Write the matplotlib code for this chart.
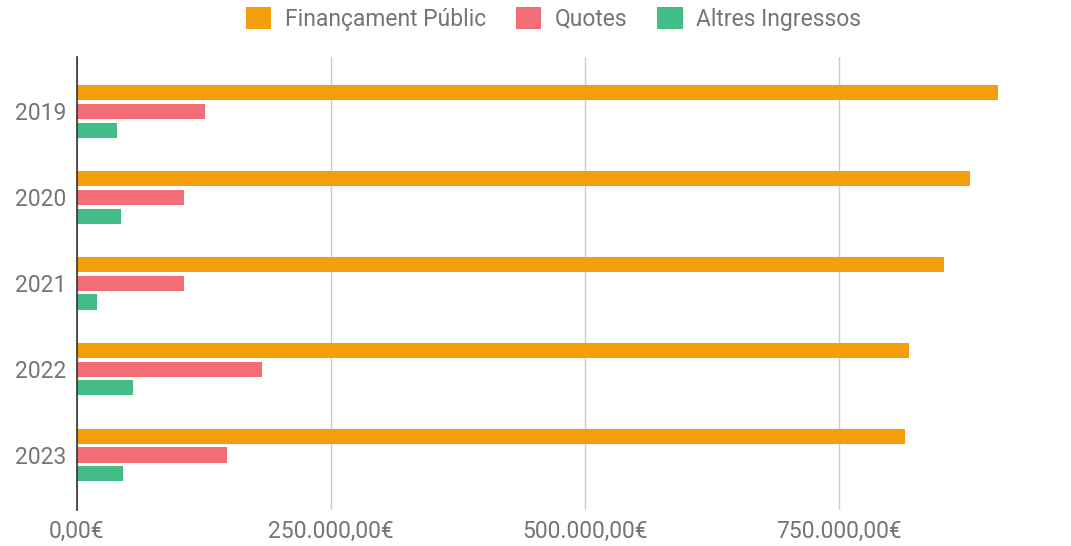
import numpy as np
import matplotlib.pyplot as plt
from matplotlib.ticker import FuncFormatter

years = ['2019', '2020', '2021', '2022', '2023']
series_names = ['Finançament Públic', 'Quotes', 'Altres Ingressos']
financament = [907000, 879000, 854000, 819000, 815000]
quotes = [126000, 105000, 105000, 182000, 148000]
altres = [39000, 43000, 20000, 55000, 45000]

colors = ['#f59e0c', '#f26d76', '#42bd88']
text_grey = '#757575'

plt.rcParams['font.family'] = ['Roboto', 'DejaVu Sans']

fig = plt.figure(figsize=(10.71, 5.46), dpi=100)
ax = fig.add_axes([77 / 1071, 1 - 510 / 546, (1052 - 77) / 1071, (510 - 57) / 546])

ind = np.arange(len(years))
step = 0.22
height = 0.175
for k, (vals, name) in enumerate(zip([financament, quotes, altres], series_names)):
    ax.barh(ind + (k - 1) * step, vals, height, color=colors[k], label=name,
            zorder=3)

ax.set_xlim(0, 960000)
ax.set_ylim(4.64, -0.63)
ax.set_yticks(ind)
ax.set_yticklabels(years)
ax.set_xticks([0, 250000, 500000, 750000])


def euro(v, pos):
    s = '{:,.2f}'.format(v).replace(',', 'X').replace('.', ',').replace('X', '.')
    return s + '€'


ax.xaxis.set_major_formatter(FuncFormatter(euro))
ax.grid(axis='x', color='#cccccc', linewidth=1, zorder=0)
ax.tick_params(length=0, labelsize=16.5, colors=text_grey)
ax.tick_params(axis='x', pad=7)
ax.tick_params(axis='y', pad=8)
for side in ['top', 'right', 'bottom']:
    ax.spines[side].set_visible(False)
ax.spines['left'].set_color('#333333')
ax.spines['left'].set_linewidth(1.2)
ax.spines['left'].set_zorder(4)

fig.legend(loc='upper center', bbox_to_anchor=(0.517, 1.025), ncol=3,
           frameon=False, handlelength=1.1, handleheight=1.1,
           columnspacing=1.3, handletextpad=0.6, fontsize=16.5,
           labelcolor=text_grey)

fig.savefig('out.png', dpi=100)
